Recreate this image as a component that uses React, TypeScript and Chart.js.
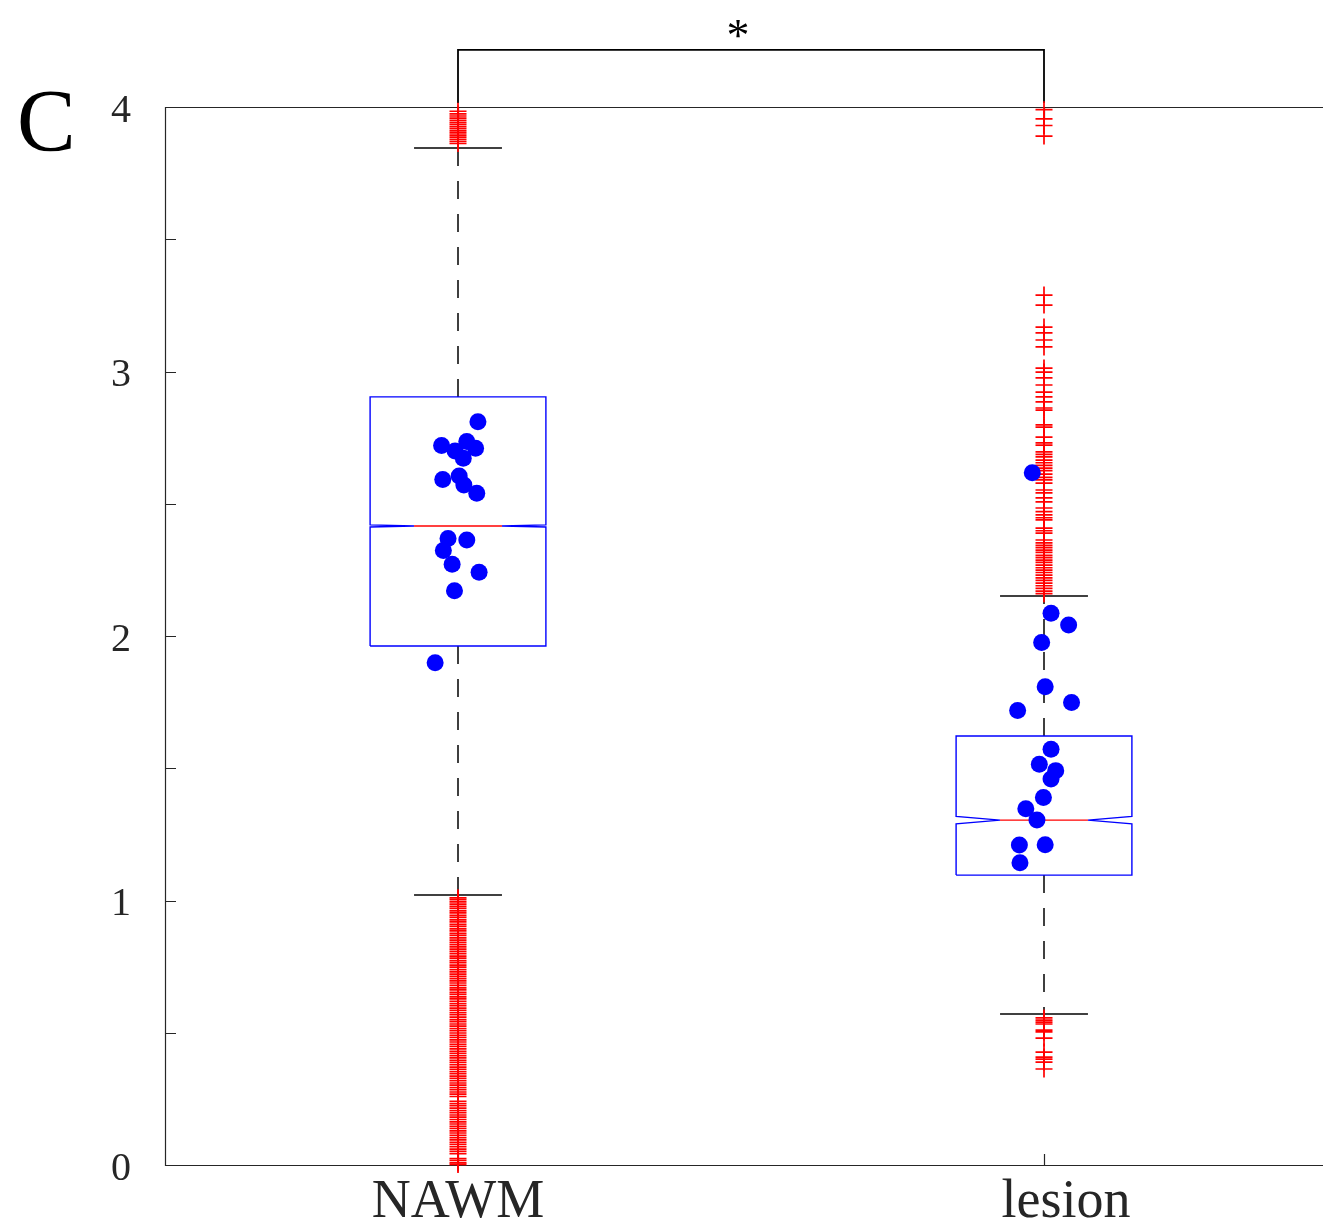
import React, { useEffect, useRef } from 'react';
import { Chart, registerables } from 'chart.js';

Chart.register(...registerables);

// ---- data ----
const categories = ['NAWM', 'lesion'];
const whiskerHigh = [3.845, 2.151];
const q3 = [2.904, 1.622];
const median = [2.416, 1.304];
const q1 = [1.962, 1.096];
const whiskerLow = [1.021, 0.571];
const notchHigh = [2.42, 1.318];
const notchLow = [2.412, 1.29];

const nawmOutliers = [
  3.984, 3.974, 3.966, 3.958, 3.95, 3.942, 3.934, 3.926, 3.918, 3.91, 3.902, 3.894, 3.886, 3.878, 3.87, 3.862,
  1.01, 1.003, 0.995, 0.986, 0.978, 0.97, 0.961, 0.953, 0.944, 0.936, 0.927, 0.919, 0.91, 0.902, 0.893, 0.885,
  0.876, 0.868, 0.859, 0.85, 0.842, 0.833, 0.825, 0.816, 0.808, 0.799, 0.79, 0.782, 0.773, 0.765, 0.756, 0.748,
  0.739, 0.73, 0.722, 0.713, 0.705, 0.696, 0.688, 0.679, 0.67, 0.662, 0.653, 0.645, 0.636, 0.628, 0.619, 0.61,
  0.602, 0.593, 0.585, 0.576, 0.568, 0.559, 0.55, 0.542, 0.533, 0.525, 0.516, 0.508, 0.499, 0.49, 0.482, 0.473,
  0.465, 0.456, 0.448, 0.439, 0.43, 0.422, 0.413, 0.405, 0.396, 0.388, 0.379, 0.37, 0.362, 0.353, 0.345, 0.336,
  0.328, 0.319, 0.31, 0.302, 0.293, 0.285, 0.276, 0.268, 0.259, 0.241, 0.232, 0.224, 0.215, 0.206, 0.198, 0.189,
  0.181, 0.172, 0.163, 0.155, 0.146, 0.138, 0.129, 0.121, 0.112, 0.103, 0.095, 0.086, 0.078, 0.069, 0.06, 0.052,
  0.043, 0.024, 0.017, 0.008, 0.002,
];

const lesionOutliers = [
  3.99, 3.955, 3.93, 3.89,
  3.289, 3.251, 3.168, 3.146, 3.119, 3.093, 3.013, 2.998, 2.976, 2.949, 2.922, 2.904, 2.885, 2.862, 2.854,
  2.798, 2.79, 2.752, 2.73, 2.722, 2.696, 2.687, 2.677, 2.665, 2.655, 2.645, 2.635, 2.625, 2.612, 2.6, 2.59,
  2.578, 2.552, 2.541, 2.522, 2.507, 2.484, 2.47, 2.458, 2.447, 2.439, 2.408, 2.398, 2.389, 2.363, 2.352,
  2.343, 2.334, 2.325, 2.316, 2.305, 2.296, 2.287, 2.278, 2.268, 2.258, 2.249, 2.24, 2.23, 2.22, 2.21, 2.2,
  2.19, 2.18, 2.17, 2.16,
  0.556, 0.548, 0.54, 0.533, 0.51, 0.503, 0.48, 0.427, 0.408, 0.4, 0.389, 0.363,
];

const nawmDotX = [1.034, 0.972, 1.015, 1.03, 1.009, 0.995, 0.974, 1.002, 1.01, 1.032, 0.983, 1.015, 0.975, 0.99, 1.036, 0.994, 0.961];
const nawmDotY = [2.81, 2.72, 2.735, 2.71, 2.672, 2.699, 2.592, 2.605, 2.571, 2.54, 2.369, 2.363, 2.323, 2.271, 2.241, 2.171, 1.899];
const lesionDotX = [2.012, 2.042, 1.996, 2.002, 2.047, 1.955, 2.012, 1.992, 2.02, 2.012, 1.999, 1.969, 1.988, 1.958, 2.002, 1.959, 1.98];
const lesionDotY = [2.086, 2.042, 1.975, 1.808, 1.749, 1.718, 1.572, 1.515, 1.491, 1.459, 1.389, 1.347, 1.304, 1.21, 1.211, 1.143, 2.617];

const yTicks = [0, 0.5, 1, 1.5, 2, 2.5, 3, 3.5, 4];
const bracketY = [4.015, 4.216];
const significance = '*';
const panelLabel = 'C';

const BOX_HALF = 0.15;
const NOTCH_HALF = 0.075;
const CAP_HALF = 0.075;
const AXIS_COLOR = '#262626';
const SERIF = '"Liberation Serif", "DejaVu Serif", serif';

export default function App() {
  const ref = useRef<HTMLCanvasElement>(null);

  useEffect(() => {
    const canvas = ref.current;
    if (!canvas) return;

    const datasets: any[] = [];
    const line = (data: any[], color: string, width: number, dash: number[] = [], clip: any = undefined) => ({
      data,
      showLine: true,
      borderColor: color,
      borderWidth: width,
      borderDash: dash,
      pointRadius: 0,
      pointHoverRadius: 0,
      fill: false,
      tension: 0,
      ...(clip !== undefined ? { clip } : {}),
    });

    // blue dots (top-most)
    datasets.push({
      data: nawmDotX.map((x, i) => ({ x, y: nawmDotY[i] })),
      showLine: false,
      pointRadius: 8.5,
      pointHoverRadius: 8.5,
      pointBackgroundColor: '#0000ff',
      pointBorderWidth: 0,
    });
    datasets.push({
      data: lesionDotX.map((x, i) => ({ x, y: lesionDotY[i] })),
      showLine: false,
      pointRadius: 8.5,
      pointHoverRadius: 8.5,
      pointBackgroundColor: '#0000ff',
      pointBorderWidth: 0,
    });

    // outliers
    [nawmOutliers, lesionOutliers].forEach((arr, i) => {
      datasets.push({
        data: arr.map((y) => ({ x: i + 1, y })),
        showLine: false,
        pointStyle: 'cross',
        pointRadius: 8.5,
        pointHoverRadius: 8.5,
        pointBorderColor: '#ff0000',
        pointBackgroundColor: '#ff0000',
        pointBorderWidth: 1.7,
        clip: false,
      });
    });

    categories.forEach((_, i) => {
      const c = i + 1;
      // median
      datasets.push(line([{ x: c - NOTCH_HALF, y: median[i] }, { x: c + NOTCH_HALF, y: median[i] }], '#ff0000', 1.4));
      // notched box
      datasets.push(
        line(
          [
            { x: c - BOX_HALF, y: q1[i] },
            { x: c - BOX_HALF, y: notchLow[i] },
            { x: c - NOTCH_HALF, y: median[i] },
            { x: c - BOX_HALF, y: notchHigh[i] },
            { x: c - BOX_HALF, y: q3[i] },
            { x: c + BOX_HALF, y: q3[i] },
            { x: c + BOX_HALF, y: notchHigh[i] },
            { x: c + NOTCH_HALF, y: median[i] },
            { x: c + BOX_HALF, y: notchLow[i] },
            { x: c + BOX_HALF, y: q1[i] },
            { x: c - BOX_HALF, y: q1[i] },
          ],
          '#0000ff',
          1.4
        )
      );
      // caps
      datasets.push(line([{ x: c - CAP_HALF, y: whiskerHigh[i] }, { x: c + CAP_HALF, y: whiskerHigh[i] }], '#000000', 1.5));
      datasets.push(line([{ x: c - CAP_HALF, y: whiskerLow[i] }, { x: c + CAP_HALF, y: whiskerLow[i] }], '#000000', 1.5));
      // whiskers
      datasets.push(line([{ x: c, y: q3[i] }, { x: c, y: whiskerHigh[i] }], '#000000', 1.5, [18, 15]));
      datasets.push(line([{ x: c, y: q1[i] }, { x: c, y: whiskerLow[i] }], '#000000', 1.5, [18, 15]));
    });

    // significance bracket
    datasets.push(
      line(
        [
          { x: 1, y: bracketY[0] },
          { x: 1, y: bracketY[1] },
          { x: 2, y: bracketY[1] },
          { x: 2, y: bracketY[0] },
        ],
        '#000000',
        1.8,
        [],
        false
      )
    );

    const decor = {
      id: 'decor',
      beforeDatasetsDraw(chart: any) {
        const { ctx, chartArea } = chart;
        const { left, right, top, bottom } = chartArea;
        const xs = chart.scales.x;
        const ys = chart.scales.y;
        ctx.save();
        ctx.strokeStyle = AXIS_COLOR;
        ctx.lineWidth = 1.2;
        ctx.beginPath();
        ctx.rect(Math.round(left) + 0.5, Math.round(top) + 0.5, Math.round(right - left), Math.round(bottom - top));
        // inward ticks
        const tl = 11;
        yTicks.forEach((v) => {
          const y = Math.round(ys.getPixelForValue(v)) + 0.5;
          ctx.moveTo(left, y);
          ctx.lineTo(left + tl, y);
          ctx.moveTo(right, y);
          ctx.lineTo(right - tl, y);
        });
        categories.forEach((_, i) => {
          const x = Math.round(xs.getPixelForValue(i + 1)) + 0.5;
          ctx.moveTo(x, bottom);
          ctx.lineTo(x, bottom - tl);
          ctx.moveTo(x, top);
          ctx.lineTo(x, top + tl);
        });
        ctx.stroke();
        ctx.restore();
      },
      afterDraw(chart: any) {
        const { ctx, chartArea } = chart;
        const xs = chart.scales.x;
        const ys = chart.scales.y;
        ctx.save();
        ctx.fillStyle = AXIS_COLOR;
        ctx.textBaseline = 'alphabetic';
        ctx.textAlign = 'center';
        ctx.font = `54px ${SERIF}`;
        const shift = [0, 22];
        categories.forEach((c, i) => {
          ctx.fillText(c, xs.getPixelForValue(i + 1) + shift[i], chartArea.bottom + 52);
        });
        // panel label
        ctx.fillStyle = '#000000';
        ctx.textAlign = 'left';
        ctx.font = `88px ${SERIF}`;
        ctx.fillText(panelLabel, 17, 150);
        // significance star
        ctx.textAlign = 'center';
        ctx.font = `46px ${SERIF}`;
        const mid = (xs.getPixelForValue(1) + xs.getPixelForValue(2)) / 2 - 13;
        ctx.fillText(significance, mid, ys.getPixelForValue(bracketY[1]) + 1);
        ctx.restore();
      },
    };

    const chart = new Chart(canvas, {
      type: 'scatter',
      data: { datasets },
      options: {
        animation: false,
        responsive: false,
        devicePixelRatio: 1,
        events: [],
        layout: { padding: { left: 0, top: 107, right: 63, bottom: 0 } },
        plugins: { legend: { display: false }, tooltip: { enabled: false }, title: { display: false } },
        scales: {
          x: {
            type: 'linear',
            min: 0.5,
            max: 2.5,
            afterBuildTicks: (s: any) => {
              s.ticks = categories.map((_, i) => ({ value: i + 1 }));
            },
            afterFit: (s: any) => {
              s.height = 62;
            },
            ticks: { display: false },
            grid: { display: false, drawTicks: false },
            border: { display: false },
          },
          y: {
            type: 'linear',
            min: 0,
            max: 4,
            afterBuildTicks: (s: any) => {
              s.ticks = yTicks.map((v) => ({ value: v }));
            },
            afterFit: (s: any) => {
              s.width = 165;
            },
            ticks: {
              autoSkip: false,
              callback: (v: any) => (Number.isInteger(v) ? String(v) : ''),
              font: { family: SERIF, size: 40 },
              color: AXIS_COLOR,
              padding: 34,
              labelOffset: 4,
            },
            grid: { display: false, drawTicks: false },
            border: { display: false },
          },
        },
      },
      plugins: [decor],
    } as any);

    return () => chart.destroy();
  }, []);

  return (
    <div
      style={{
        position: 'fixed',
        left: 0,
        top: 0,
        width: 1323,
        height: 1227,
        overflow: 'hidden',
        background: '#ffffff',
      }}
    >
      <canvas ref={ref} width={1400} height={1227} style={{ display: 'block', width: 1400, height: 1227 }} />
    </div>
  );
}
